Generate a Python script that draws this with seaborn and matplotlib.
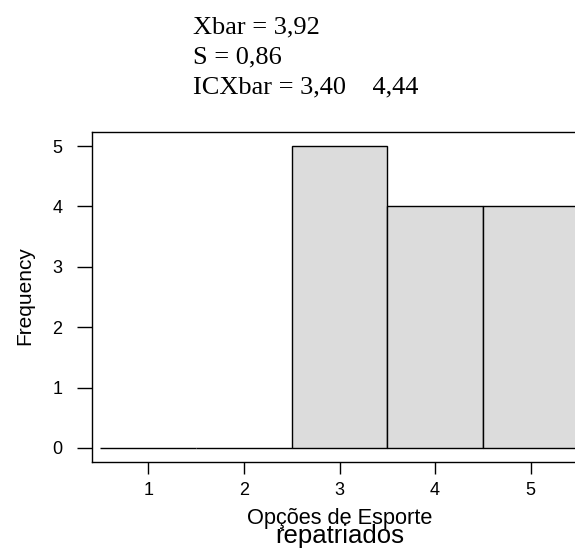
import numpy as np
import matplotlib
matplotlib.use("Agg")
import matplotlib.pyplot as plt
import seaborn as sns

# =========================
# data
# =========================
opcoes = [1, 2, 3, 4, 5]
freq = [0, 0, 5, 4, 4]
bin_edges = [0.5, 1.5, 2.5, 3.5, 4.5, 5.5]
stats_lines = ["Xbar = 3,92", "S = 0,86", "ICXbar = 3,40    4,44"]
x_label = "Opções de Esporte"
sub_label = "repatriados"
y_label = "Frequency"

# =========================
# style
# =========================
sns.set_style("white")
plt.rcParams["font.family"] = ["Liberation Sans", "DejaVu Sans"]
plt.rcParams["text.color"] = "black"

W, H = 575, 550
fig = plt.figure(figsize=(W / 100, H / 100), dpi=100)

# axes box (right side runs off the figure like the original)
left, right, top, bottom = 91.7, 587.3, 131.7, 461.7
ax = fig.add_axes([left / W, 1 - bottom / H, (right - left) / W, (bottom - top) / H])

sns.histplot(x=opcoes, weights=freq, bins=bin_edges, ax=ax,
             color="#dcdcdc", edgecolor="black", linewidth=1.0, alpha=1.0)

ax.set_xlim(0.408, 5.592)
ax.set_ylim(-0.227, 5.237)
ax.set_xticks(opcoes)
ax.set_yticks(range(0, 6))
ax.set_xlabel("")
ax.set_ylabel("")

for s in ax.spines.values():
    s.set_visible(True)
    s.set_color("black")
    s.set_linewidth(1.0)

ax.tick_params(axis="x", direction="out", length=8.6, width=1.0, pad=6,
               labelsize=13, colors="black", bottom=True)
ax.tick_params(axis="y", direction="out", length=11, width=1.0, pad=10,
               labelsize=13, colors="black", left=True)

# labels
fig.text(340 / W, 1 - 524 / H, x_label, ha="center", va="baseline", fontsize=15.7)
fig.text(340 / W, 1 - 543 / H, sub_label, ha="center", va="baseline", fontsize=18.5)
fig.text(25 / W, 1 - 296 / H, y_label, ha="center", va="center", rotation=90, fontsize=15)

# summary text at top
for i, line in enumerate(stats_lines):
    fig.text(193 / W, 1 - (33 + 30 * i) / H, line, ha="left", va="baseline",
             fontsize=19, family=["Liberation Serif", "DejaVu Serif"])

fig.savefig("out.png", dpi=100)
